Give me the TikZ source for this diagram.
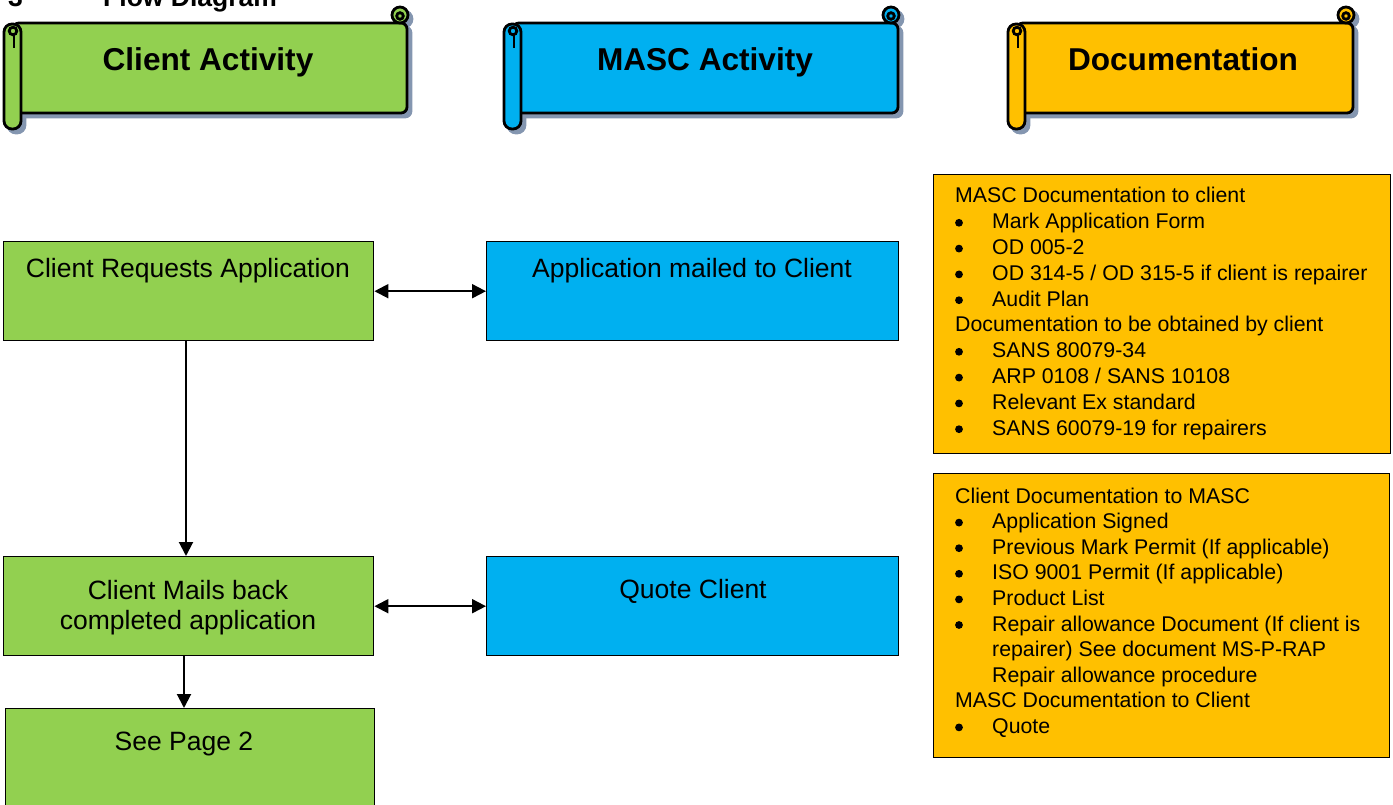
\documentclass[tikz,border=0pt]{standalone}
\usepackage{fontspec}
\setmainfont{Liberation Sans}
\usetikzlibrary{arrows.meta}
\definecolor{cgreen}{HTML}{92D050}
\definecolor{cblue}{HTML}{00B0F0}
\definecolor{corange}{HTML}{FFC000}
\definecolor{cshadow}{HTML}{8496B0}
\newcommand\scrollshape[3]{%
  \path[#3, rounded corners=6pt] (#1+9,23) rectangle (#2,113);
  \path[#3] (#2-7,15) circle (8pt);
  \path[#3] (#2-7,16) circle (3.3pt);
  \path[#3, rounded corners=8pt] (#1,24) rectangle (#1+17,129);
  \path[#3] (#1+9,31) circle (3.8pt);
  \path[#3, line width=1.5pt] (#1+10,35) -- (#1+10,48);
}
\newcommand\doctext{\fontsize{21.3}{25.8}\selectfont}
\newcommand\itm{\hspace*{37pt}}
\begin{document}
\begin{tikzpicture}[x=1pt,y=-1pt,
  scrollline/.style={line width=2.8pt, draw=black, fill=#1},
  scrollshadow/.style={line width=2.8pt, draw=cshadow, fill=cshadow},
  headtext/.style={anchor=base, inner sep=0pt, font=\fontsize{31.6}{36}\selectfont\bfseries},
  pbox/.style={draw=black, line width=1.4pt, fill=#1, anchor=north west, inner sep=0pt},
  boxtext/.style={anchor=base, inner sep=0pt, font=\fontsize{26.5}{30}\selectfont},
  arr/.style={line width=2pt, draw=black, -{Triangle[length=14pt,width=14pt]}},
  darr/.style={line width=2pt, draw=black, {Triangle[length=14pt,width=14pt]}-{Triangle[length=14pt,width=14pt]}},
  bul/.style={fill=black}
]
\useasboundingbox (0,0) rectangle (1393,805);
% title (cut off at the top)
\node[anchor=base west, inner sep=0pt, font=\fontsize{26.5}{30}\selectfont\bfseries] (num) at (8,7) {3};
\node[anchor=base west, inner sep=0pt, font=\fontsize{26.5}{30}\selectfont\bfseries] (title) at (103,7) {Flow Diagram};
% scroll banners
\begin{scope}[shift={(4,4)}]
  \scrollshape{4}{407}{scrollshadow}
  \scrollshape{504}{898}{scrollshadow}
  \scrollshape{1008}{1353}{scrollshadow}
\end{scope}
\scrollshape{4}{407}{scrollline=cgreen}
\scrollshape{504}{898}{scrollline=cblue}
\scrollshape{1008}{1353}{scrollline=corange}
\node[headtext] (h1) at (208,71) {Client Activity};
\node[headtext] (h2) at (705,71) {MASC Activity};
\node[headtext] (h3) at (1183,71) {Documentation};
% process boxes
\node[pbox=cgreen, minimum width=370pt, minimum height=99pt] (b1) at (3,241) {};
\node[pbox=cblue, minimum width=412pt, minimum height=99pt] (b2) at (486,241) {};
\node[pbox=cgreen, minimum width=370pt, minimum height=99pt] (b3) at (3,556) {};
\node[pbox=cblue, minimum width=412pt, minimum height=99pt] (b4) at (486,556) {};
\node[pbox=cgreen, minimum width=369pt, minimum height=110pt] (b5) at (5,708) {};
\node[boxtext] (t1) at (188,278) {Client Requests Application};
\node[boxtext] (t2) at (692,278) {Application mailed to Client};
\node[boxtext] (t3a) at (188,599) {Client Mails back};
\node[boxtext] (t3b) at (188,629) {completed application};
\node[boxtext] (t4) at (693,598) {Quote Client};
\node[boxtext] (t5) at (184,750) {See Page 2};
% connectors
\draw[darr] (b1.east) -- (b2.west);
\draw[darr] (b3.east) -- (b4.west);
\draw[arr] (186,340) coordinate (c1) (c1) -- (c1 |- b3.north);
\draw[arr] (184,655) coordinate (c2) (c2) -- (c2 |- b5.north);
% documentation boxes
\node[pbox=corange, minimum width=457pt, minimum height=279pt] (d1) at (933,174) {};
\node[pbox=corange, minimum width=456pt, minimum height=284pt] (d2) at (933,473) {};
\node[anchor=base west, inner sep=0pt] (dt1) at (955,203) {\parbox[t]{430pt}{\doctext
MASC Documentation to client\\
\itm Mark Application Form\\
\itm OD 005-2\\
\itm OD 314-5 / OD 315-5 if client is repairer\\
\itm Audit Plan\\
Documentation to be obtained by client\\
\itm SANS 80079-34\\
\itm ARP 0108 / SANS 10108\\
\itm Relevant Ex standard\\
\itm SANS 60079-19 for repairers}};
\node[anchor=base west, inner sep=0pt] (dt2) at (955,503) {\parbox[t]{430pt}{\fontsize{21.3}{25.6}\selectfont
Client Documentation to MASC\\
\itm Application Signed\\
\itm Previous Mark Permit (If applicable)\\
\itm ISO 9001 Permit (If applicable)\\
\itm Product List\\
\itm Repair allowance Document (If client is\\
\itm repairer) See document MS-P-RAP\\
\itm Repair allowance procedure\\
MASC Documentation to Client\\
\itm Quote}};
\foreach \k in {1,2,3,4,6,7,8,9} \fill[bul] (959,203+25.8*\k-6) circle (3.9pt);
\foreach \k in {1,2,3,4,5,9} \fill[bul] (959,503+25.6*\k-6) circle (3.9pt);
\end{tikzpicture}
\end{document}
